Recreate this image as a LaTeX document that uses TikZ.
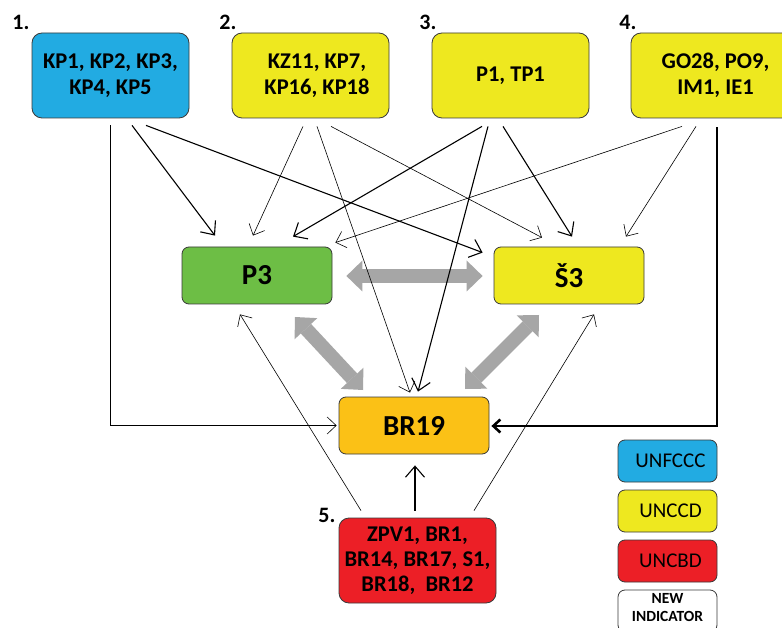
\documentclass[tikz,border=0pt]{standalone}
\usepackage{fontspec}
\setmainfont{Carlito}
\usetikzlibrary{arrows.meta,calc}

\definecolor{boxline}{HTML}{3A3A3A}
\definecolor{fcccblue}{HTML}{22ABE2}
\definecolor{ccdyellow}{HTML}{EEE81F}
\definecolor{pgreen}{HTML}{6DBE45}
\definecolor{brorange}{HTML}{FBC116}
\definecolor{cbdred}{HTML}{EC1F26}
\definecolor{arrowgray}{HTML}{A6A6A6}

\tikzset{
  srcbox/.style={draw=boxline, line width=0.8pt, rounded corners=10pt,
    minimum width=157pt, minimum height=85pt, inner sep=0pt, align=center,
    font=\fontsize{22.5}{26}\selectfont\bfseries},
  boxtext/.style={inner sep=0pt, align=center, font=\fontsize{22.5}{26}\selectfont\bfseries},
  midbox/.style={draw=boxline, line width=0.8pt, rounded corners=7pt,
    minimum width=150pt, minimum height=57pt, inner sep=0pt,
    font=\fontsize{29}{34}\selectfont\bfseries},
  legbox/.style={draw=boxline, line width=0.8pt, rounded corners=7pt,
    minimum width=99pt, minimum height=42pt, inner sep=0pt, align=center,
    font=\fontsize{21}{25}\selectfont},
  numlabel/.style={inner sep=0pt, font=\fontsize{22}{26}\selectfont\bfseries},
  thinar/.style={line width=0.6pt, -{Straight Barb[length=9pt,width=17pt]}},
  midar/.style={line width=1.1pt, -{Straight Barb[length=11pt,width=19pt]}},
  thickar/.style={line width=2.6pt, -{Straight Barb[length=7pt,width=13pt]}},
  grayar/.style={draw=arrowgray, line width=14pt,
    {Triangle[length=16pt,width=31pt,line width=0pt]}-{Triangle[length=16pt,width=31pt,line width=0pt]}},
}

\begin{document}
\begin{tikzpicture}[x=1pt, y=-1pt]
  \useasboundingbox[fill=white] (0,0) rectangle (782,628);

  % indicator groups
  \node[srcbox, fill=fcccblue] (b1) at (110.5,75.5) {KP1, KP2, KP3,\\KP4, KP5};
  \node[srcbox, fill=ccdyellow] (b2) at (310.5,75.5) {};
  \node[boxtext] (b2t) at (317,75.5) {KZ11, KP7,\\KP16, KP18};
  \node[srcbox, fill=ccdyellow] (b3) at (510.5,75.5) {P1, TP1};
  \node[srcbox, fill=ccdyellow, minimum width=169pt] (b4) at (715.5,75.5) {GO28, PO9,\\IM1, IE1};
  \node[srcbox, fill=cbdred, font=\fontsize{22.5}{25}\selectfont\bfseries] (b5) at (417.5,560.5) {ZPV1, BR1,\\BR14, BR17, S1,\\BR18,\ \ BR12};

  \node[numlabel] (n1) at (21,22) {1.};
  \node[numlabel] (n2) at (228,22) {2.};
  \node[numlabel] (n3) at (428,22) {3.};
  \node[numlabel] (n4) at (628,22) {4.};
  \node[numlabel] (n5) at (327,515) {5.};

  % target indicators
  \node[midbox, fill=pgreen] (p3) at (257,275.5) {P3};
  \node[midbox, fill=ccdyellow] (s3) at (569,275.5) {Š3};
  \node[midbox, fill=brorange] (br) at (414,425.5) {BR19};

  % legend
  \node[legbox, fill=fcccblue] (l1) at (667.5,461) {\hspace*{6pt}UNFCCC};
  \node[legbox, fill=ccdyellow] (l2) at (667.5,511) {\hspace*{6pt}UNCCD};
  \node[legbox, fill=cbdred] (l3) at (667.5,561) {\hspace*{6pt}UNCBD};
  \node[legbox, fill=white] (l4) at (667.5,611) {};
  \node[inner sep=0pt, align=center, font=\fontsize{15.5}{18}\selectfont\bfseries] (l4t) at (667.5,608) {NEW\\INDICATOR};

  % mutual links between targets
  \draw[grayar] ($(p3.east)+(14,0.5)$) -- ($(s3.west)+(-11,0.5)$);
  \draw[grayar] (295,317) -- (363,390);
  \draw[grayar] (539,315) -- (465,389);

  % group 1
  \draw[thinar] ($(b1.south)+(0,7)$) |- ($(br.west)+(-2,0)$);
  \draw[midar] ($(b1.south)+(21.5,7)$) -- ($(p3.north)+(-42,-11)$);
  \draw[midar] ($(b1.south)+(35.5,7)$) -- ($(s3.north west)+(-11,6)$);

  % group 2
  \draw[thinar] ($(b2.south)+(-7.5,8)$) -- ($(p3.north)+(-4,-11)$);
  \draw[thinar] ($(b2.south)+(6.5,8)$) -- ($(br.north)+(-4,-4)$);
  \draw[thinar] ($(b2.south)+(20.5,8)$) -- ($(s3.north)+(-27,-9)$);

  % group 3
  \draw[midar] ($(b3.south)+(-28.5,8)$) -- ($(p3.north)+(36,-10)$);
  \draw[midar] ($(b3.south)+(-22.5,8)$) -- ($(br.north)+(4,-5)$);
  \draw[midar] ($(b3.south)+(-7.5,8)$) -- ($(s3.north)+(3,-10)$);

  % group 4
  \draw[thinar] ($(b4.south)+(-33.5,8)$) -- ($(p3.north east)+(3,-4)$);
  \draw[thinar] ($(b4.south)+(-19.5,8)$) -- ($(s3.north)+(57,-10)$);
  \draw[thickar] ($(b4.south)+(1.5,9)$) |- ($(br.east)+(2,0.5)$);

  % group 5
  \draw[thinar] ($(b5.north)+(-56.5,-7)$) -- ($(p3.south)+(-17,10)$);
  \draw[midar] ($(b5.north)+(-2.5,-7)$) -- ($(br.south)+(1,11)$);
  \draw[thinar] ($(b5.north)+(56.5,-7)$) -- ($(s3.south)+(25,10)$);
\end{tikzpicture}
\end{document}
